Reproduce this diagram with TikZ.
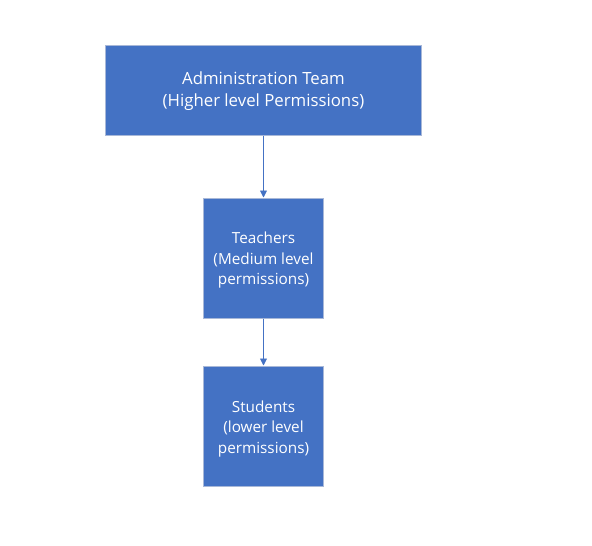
\documentclass[tikz,border=0pt]{standalone}
\usepackage{fontspec}
\setmainfont{Open Sans}
\usetikzlibrary{arrows.meta}
\definecolor{boxblue}{HTML}{4472C4}
\definecolor{boxedge}{HTML}{A8B8D8}
\tikzset{
  box/.style={draw=boxedge, line width=1pt, fill=boxblue, inner sep=0pt},
  boxtext/.style={text=white, align=center, inner sep=0pt},
  conn/.style={draw=boxblue, line width=0.9pt, -{Triangle[length=7pt,width=7pt]}}
}
\begin{document}
\begin{tikzpicture}[x=1pt,y=-1pt]
\useasboundingbox (0,0) rectangle (592,546);
\node[box, minimum width=316pt, minimum height=90pt,
  label={[boxtext, yshift=-1pt, font=\fontsize{16.8}{22}\selectfont]center:{Administration Team\\(Higher level Permissions)}}] (admin) at (263.5,90) {};
\node[box, minimum width=120pt, minimum height=120pt,
  label={[boxtext, yshift=-2.5pt, font=\fontsize{15.3}{20.5}\selectfont]center:{Teachers\\(Medium level\\permissions)}}] (teach) at (263.5,258) {};
\node[box, minimum width=120pt, minimum height=120pt,
  label={[boxtext, yshift=-3pt, font=\fontsize{15.3}{20.5}\selectfont]center:{Students\\(lower level\\permissions)}}] (stud) at (263.5,426) {};
\draw[conn] (admin.south) -- (teach.north);
\draw[conn] (teach.south) -- (stud.north);
\end{tikzpicture}
\end{document}
